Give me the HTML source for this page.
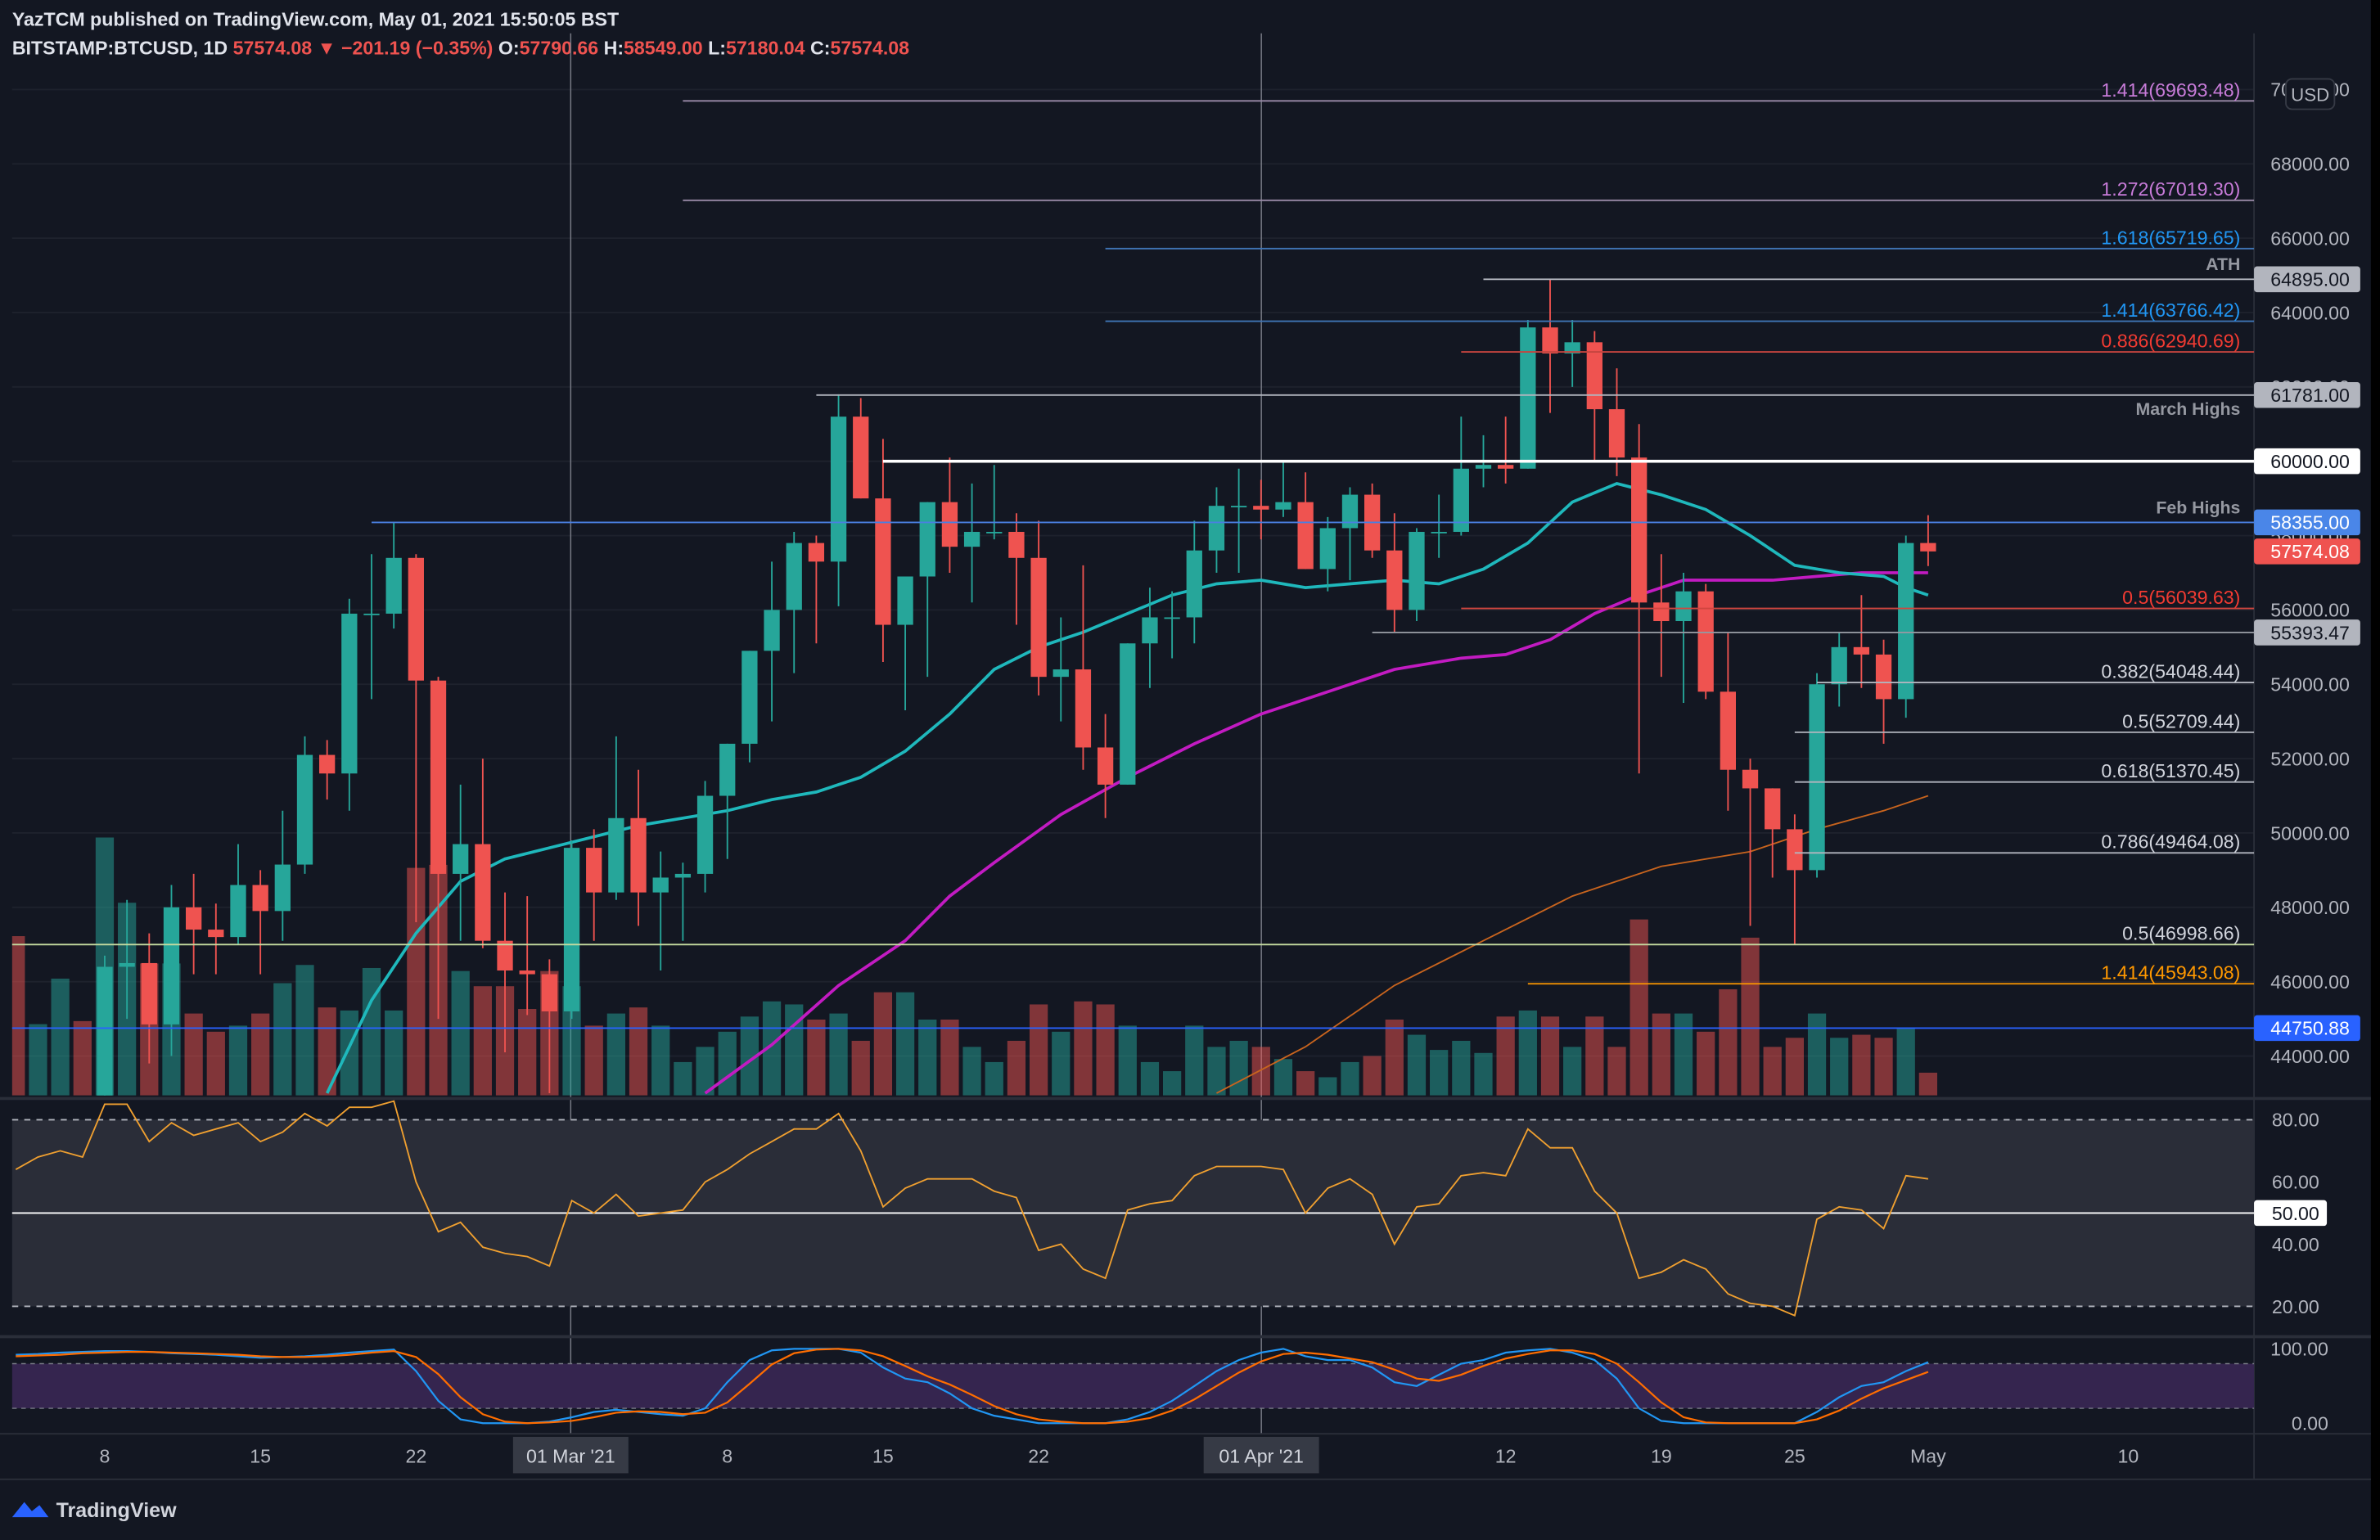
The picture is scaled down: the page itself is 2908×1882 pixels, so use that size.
<!DOCTYPE html>
<html><head><meta charset="utf-8">
<style>
html,body{margin:0;padding:0;background:#000;}
svg{display:block;font-family:"Liberation Sans",sans-serif;}
</style></head>
<body>
<svg id="chart" width="2908" height="1882" viewBox="0 0 1568 1015" preserveAspectRatio="none" xmlns="http://www.w3.org/2000/svg">
<defs><clipPath id="pc"><rect x="8" y="22" width="1477" height="700"/></clipPath></defs>
<rect x="0" y="0" width="1562" height="1015" fill="#131722"/>
<g font-size="12.5" font-weight="bold">
<text x="8" y="17" fill="#e0e3eb">YazTCM published on TradingView.com, May 01, 2021 15:50:05 BST</text>
<text x="8" y="36" fill="#e0e3eb">BITSTAMP:BTCUSD, 1D <tspan fill="#ef5350">57574.08 ▼ −201.19 (−0.35%)</tspan> O:<tspan fill="#ef5350">57790.66</tspan> H:<tspan fill="#ef5350">58549.00</tspan> L:<tspan fill="#ef5350">57180.04</tspan> C:<tspan fill="#ef5350">57574.08</tspan></text>
</g>
<g id="grid"></g>
<g id="vol" clip-path="url(#pc)"></g>
<g id="lines" clip-path="url(#pc)"></g>
<g id="candles" clip-path="url(#pc)"></g>
<g id="levels"></g>
<g id="axis"></g>
<g id="rsi"></g>
<g id="stoch"></g>
<g id="time"></g>
<g>
<path d="M8 1000 l8 -10 l5 6 l5 -4 l6 8 z" fill="#2962ff"/>
<text x="37" y="1000" fill="#d1d4dc" font-size="13.5" font-weight="bold">TradingView</text>
</g>
</svg>
<script>
const closes=[36950,38290,39260,38900,
46400,46500,44850,48000,47400,47200,48600,
47900,49150,52100,51600,55900,55900,57400,
54100,48900,49700,47100,46300,46200,45200,
49600,48400,50400,48400,48800,48900,51000,
52400,54900,56000,57800,57300,61200,59000,
55600,56900,58900,57700,58100,58100,57400,
54200,54400,52300,51300,55100,55800,55800,
57600,58800,58800,58700,58900,57100,58200,
59100,57600,56000,58100,58100,59800,59900,
59800,63600,62900,63200,61400,60100,56200,
55700,56500,53800,51700,51200,50100,49000,
54000,55000,54800,53600,57800,57574];
const firstOpen=37600;
const highs=[38700,38700,40900,39700,
46700,48200,47300,48600,48900,48100,49700,
49000,50600,52600,52500,56300,57500,58350,
57500,54200,51300,52000,48400,48300,46600,
49800,50100,52600,51700,49500,49200,51400,
52400,54900,57300,58100,58000,61800,61700,
60600,56900,58900,60100,59400,59900,58600,
58400,55800,57200,53200,55100,56600,56500,
58400,59300,59800,59500,60000,59700,58500,
59300,59400,58600,58200,59100,61200,60700,
61200,63800,64895,63800,63500,62500,61000,
57500,57000,56700,55400,52000,51200,50500,
54300,55400,56400,55200,58000,58549];
const lows=[36300,36600,38200,37400,
38000,45000,43800,44000,46200,46200,47000,
46200,47100,48900,50900,50600,53600,55500,
47600,45000,47100,46900,44100,45100,43000,
45000,47100,48200,47500,46300,47100,48400,
49300,51900,53000,54300,55100,56100,59000,
54600,53300,54200,57000,56200,57900,55600,
53700,53000,51700,50400,51300,53900,54700,
55100,57000,57000,57900,58500,57100,56500,
56800,57400,55400,55700,57400,58000,59300,
59400,59800,61300,62000,60000,59600,51600,
54200,53500,53600,50600,47500,48800,47000,
48800,53400,53900,52400,53100,57180];
const volumes=[105,47,77,49,
170,127,87,87,54,42,46,
54,74,86,58,56,84,56,
150,152,82,72,72,57,82,
72,46,54,58,46,22,32,
42,52,62,60,50,54,36,
68,68,50,50,32,22,36,
60,42,62,60,46,22,16,
46,32,36,32,24,16,12,
22,26,50,40,30,36,28,
52,56,52,32,52,32,116,
54,54,42,70,104,32,38,
54,38,40,38,44,15];
const maTealIdx=[14,16,18,20,22,24,26,28,30,32,34,36,38,40,42,44,46,48,50,52,54,56,58,60,62,64,66,68,70,72,74,76,78,80,82,84,85,86];
const maTealVal=[43000,45500,47300,48700,49300,49600,49900,50200,50400,50600,50900,51100,51500,52200,53200,54400,55000,55400,55900,56400,56700,56800,56600,56700,56800,56700,57100,57800,58900,59400,59100,58700,58000,57200,57000,56900,56600,56400];
const maMagIdx=[31,34,37,40,42,44,47,50,53,56,59,62,65,67,69,71,73,75,77,79,81,83,86];
const maMagVal=[43000,44300,45900,47100,48300,49200,50500,51500,52400,53200,53800,54400,54700,54800,55200,55900,56400,56800,56800,56800,56900,57000,57000];
const maOrgIdx=[54,58,62,66,70,74,78,81,84,86];
const maOrgVal=[43000,44250,45900,47100,48300,49100,49500,50100,50600,51000];
const rsiVals=[64,68,70,68,
85,85,73,79,75,77,79,73,76,82,78,84,84,86,
60,44,47,39,37,36,33,
54,50,56,49,50,51,60,
64,69,73,77,77,82,70,
52,58,61,61,61,57,55,
38,40,32,29,51,53,54,
62,65,65,65,64,50,58,
61,56,40,52,53,62,63,
62,77,71,71,57,50,29,
31,35,32,24,21,20,17,
48,52,51,45,62,61];
const stochK=[92,93,95,96,97,97,96,94,93,92,90,88,89,90,92,95,97,99,
70,30,5,0,0,0,2, 8,15,18,15,12,10,20, 55,85,98,100,100,100,95,
75,60,55,40,20,10,5, 0,0,0,0,5,15,30, 50,70,85,95,100,90,85,
85,75,55,50,65,80,85, 95,98,100,95,85,60,20, 3,0,0,0,0,0,0,
15,35,50,55,70,82];
const stochD=[90,91,92,94,95,96,96,95,94,93,92,90,89,89,90,92,95,97,
89,66,35,12,2,0,1, 3,8,14,16,15,12,14, 28,53,79,94,99,100,98,
90,77,63,52,38,23,12, 5,2,0,0,2,7,17, 32,50,68,83,93,95,92,
87,82,72,60,57,65,77, 87,93,98,98,93,80,55, 28,8,1,0,0,0,0,
5,17,33,47,58,69];
const priceTicks=[44000,46000,48000,50000,52000,54000,56000,58000,60000,62000,64000,66000,68000,70000];
const rsiTicks=[20,40,60,80];
const stochTicks=[0,100];
const timeLabels=["8","15","22","8","15","22","12","19","25","May","10"];
const timeLabelIdx=[4,11,18,32,39,46,67,74,80,86,95];
const levelPrices=[69693.48,67019.30,65719.65,64895,63766.42,62940.69,61781,60000,58355,56039.63,55393.47,54048.44,52709.44,51370.45,49464.08,46998.66,45943.08,44750.88,42770.30];
const levelTexts=["1.414(69693.48)","1.272(67019.30)","1.618(65719.65)","ATH","1.414(63766.42)","0.886(62940.69)","March Highs","","Feb Highs","0.5(56039.63)","","0.382(54048.44)","0.5(52709.44)","0.618(51370.45)","0.786(49464.08)","0.5(46998.66)","1.414(45943.08)","","0.618(42770.30)"];
const levelStartIdx=[30,30,49,66,49,65,36,39,16,65,61,81,80,80,80,-4,68,-4,80];

const NS="http://www.w3.org/2000/svg";
function mk(tag,attrs,parent,txt){const e=document.createElementNS(NS,tag);for(const k in attrs)e.setAttribute(k,attrs[k]);if(txt!==undefined)e.textContent=txt;parent.appendChild(e);return e;}
const X=i=>69+(i-4)*14.65;
const Y=p=>696-(p-44000)*0.0245;
const YR=v=>861-(v-20)*2.05;
const YS=v=>938-v*0.49;
const G=id=>document.getElementById(id);
const UP="#26a69a",DN="#ef5350";

const grid=G('grid');
priceTicks.forEach(p=>{const l=mk('line',{x1:8,x2:1485,y1:Y(p),y2:Y(p),stroke:'#1e222d','stroke-width':1},grid);

});
[376,831].forEach(x=>{const l=mk('line',{x1:x,x2:x,y1:22,y2:945,stroke:'#787b86','stroke-width':0.8},grid);

});
const sep1=mk('line',{x1:0,x2:1562,y1:724,y2:724,stroke:'#2a2e39','stroke-width':2},grid);


const sep2=mk('line',{x1:0,x2:1562,y1:881,y2:881,stroke:'#2a2e39','stroke-width':2},grid);


const axl=mk('line',{x1:1485,x2:1485,y1:22,y2:975,stroke:'#2a2e39','stroke-width':1},grid);


const tl=mk('line',{x1:0,x2:1562,y1:945,y2:945,stroke:'#2a2e39','stroke-width':1},grid);


const tl2=mk('line',{x1:0,x2:1562,y1:975,y2:975,stroke:'#2a2e39','stroke-width':1},grid);



const vol=G('vol');
volumes.forEach((v,i)=>{const o=i?closes[i-1]:firstOpen;const up=closes[i]>=o;
const r=mk('rect',{x:X(i)-6,y:722-v,width:12,height:v,fill:up?'rgba(38,166,154,0.5)':'rgba(239,83,80,0.5)'},vol);

});

function line(idx,val,color,w,name){const d=idx.map((k,j)=>(j?'L':'M')+X(k).toFixed(1)+' '+Y(val[j]).toFixed(1)).join(' ');
const p=mk('path',{d:d,fill:'none',stroke:color,'stroke-width':w},G('lines'));

}
line(maOrgIdx,maOrgVal,'#c8641e',1,'ma-200-line');
line(maMagIdx,maMagVal,'#c21bc2',2,'ma-50-line');
line(maTealIdx,maTealVal,'#1fb8bc',2,'ma-20-line');

const cg=G('candles');
closes.forEach((c,i)=>{const o=i?closes[i-1]:firstOpen;const up=c>=o;const col=up?UP:DN;
const w=mk('line',{x1:X(i),x2:X(i),y1:Y(highs[i]),y2:Y(lows[i]),stroke:col,'stroke-width':1},cg);


const t=Math.min(Y(o),Y(c));const h=Math.max(1,Math.abs(Y(o)-Y(c)));
const b=mk('rect',{x:X(i)-5.2,y:t,width:10.4,height:h,fill:col},cg);

});

const lv=G('levels');
const lvColors=['#9a8aa8','#9a8aa8','#3f74b5','#b2b5be','#3f74b5','#c4453f','#b2b5be','#ffffff','#4a7fe0','#d0453f','#9598a1','#b2b5be','#b2b5be','#b2b5be','#b2b5be','#c5dba0','#ff9800','#2962ff','#b2b5be'];
const txColors=['#c77bd8','#c77bd8','#2196f3','#9598a1','#2196f3','#f23b32','#9598a1','','#9598a1','#f23b32','','#d1d4dc','#d1d4dc','#d1d4dc','#d1d4dc','#d1d4dc','#ff9800','','#d1d4dc'];
levelPrices.forEach((p,i)=>{const y=Y(p);if(y>722)return;
const l=mk('line',{x1:Math.max(8,X(levelStartIdx[i])),x2:1485,y1:y,y2:y,stroke:lvColors[i],'stroke-width':i==7?2:1},lv);


if(levelTexts[i]){const named=/[A-Za-z]/.test(levelTexts[i]);
const ty=levelTexts[i]==='March Highs'?y+13:(named?y-6:y-3);
const t=mk('text',{x:1476,y:ty,'text-anchor':'end',fill:txColors[i],'font-size':named?11.5:12.5,'font-weight':named?'bold':'normal'},lv,levelTexts[i]);

}});

const ax=G('axis');
priceTicks.forEach(p=>{const t=mk('text',{x:1548,y:Y(p)+4.5,'text-anchor':'end',fill:'#b2b5be','font-size':12.5},ax,p.toFixed(2));

});
const badgePrice=[64895,61781,60000,58355,57574.08,55393.47,44750.88];
const badgeBg=['#b2b5be','#b2b5be','#ffffff','#4a86e8','#ef5350','#b2b5be','#2962ff'];
const badgeFg=['#131722','#131722','#131722','#ffffff','#ffffff','#131722','#ffffff'];
badgePrice.forEach((p,i)=>{const y=Y(p);
const r=mk('rect',{x:1485,y:y-8.5,width:70,height:17,rx:2,fill:badgeBg[i]},ax);


const t=mk('text',{x:1548,y:y+4.5,'text-anchor':'end',fill:badgeFg[i],'font-size':12.5},ax,p.toFixed(2));

});
const ub=mk('rect',{x:1506,y:52,width:32,height:20,rx:4,fill:'#131722',stroke:'#363a45'},ax);


const ut=mk('text',{x:1522,y:66.5,'text-anchor':'middle',fill:'#b2b5be','font-size':12},ax,'USD');



const rg=G('rsi');
const band=mk('rect',{x:8,y:YR(80),width:1477,height:YR(20)-YR(80),fill:'#2a2d38'},rg);


[80,20].forEach(v=>{const l=mk('line',{x1:8,x2:1485,y1:YR(v),y2:YR(v),stroke:'#b2b5be','stroke-dasharray':'4 4','stroke-width':1},rg);

});
const m50=mk('line',{x1:8,x2:1485,y1:YR(50),y2:YR(50),stroke:'#ffffff','stroke-width':1},rg);


const rp=mk('path',{d:rsiVals.map((v,i)=>(i?'L':'M')+X(i).toFixed(1)+' '+YR(v).toFixed(1)).join(' '),fill:'none',stroke:'#f0a030','stroke-width':1},rg);


rsiTicks.forEach(v=>{const t=mk('text',{x:1528,y:YR(v)+4.5,'text-anchor':'end',fill:'#b2b5be','font-size':12.5},rg,v.toFixed(2));

});
const r50b=mk('rect',{x:1485,y:YR(50)-8.5,width:48,height:17,rx:2,fill:'#ffffff'},rg);


const r50t=mk('text',{x:1528,y:YR(50)+4.5,'text-anchor':'end',fill:'#131722','font-size':12.5},rg,'50.00');



const sg=G('stoch');
const sb=mk('rect',{x:8,y:YS(80),width:1477,height:YS(20)-YS(80),fill:'#35254f'},sg);


[80,20].forEach(v=>{const l=mk('line',{x1:8,x2:1485,y1:YS(v),y2:YS(v),stroke:'#787b86','stroke-dasharray':'3 3','stroke-width':0.8},sg);

});
const kp=mk('path',{d:stochK.map((v,i)=>(i?'L':'M')+X(i).toFixed(1)+' '+YS(v).toFixed(1)).join(' '),fill:'none',stroke:'#2196f3','stroke-width':1.2},sg);


const dp=mk('path',{d:stochD.map((v,i)=>(i?'L':'M')+X(i).toFixed(1)+' '+YS(v).toFixed(1)).join(' '),fill:'none',stroke:'#ff6d00','stroke-width':1.2},sg);


stochTicks.forEach(v=>{const t=mk('text',{x:1534,y:YS(v)+4.5,'text-anchor':'end',fill:'#b2b5be','font-size':12.5},sg,v.toFixed(2));

});

const tg=G('time');
timeLabels.forEach((s,i)=>{const t=mk('text',{x:X(timeLabelIdx[i]),y:964,'text-anchor':'middle',fill:'#b2b5be','font-size':12.5},tg,s);

});
[[376,"01 Mar '21"],[831,"01 Apr '21"]].forEach(a=>{
const r=mk('rect',{x:a[0]-38,y:947,width:76,height:24,fill:'#363a45'},tg);


const t=mk('text',{x:a[0],y:964,'text-anchor':'middle',fill:'#d1d4dc','font-size':12.5},tg,a[1]);

});
</script>
</body></html>
